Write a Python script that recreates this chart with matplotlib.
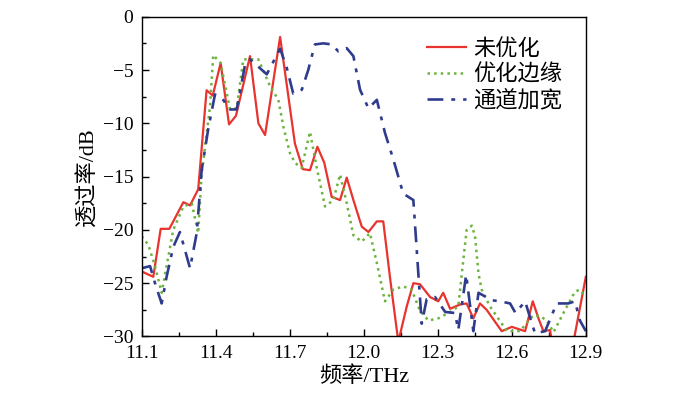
import numpy as np
import matplotlib
matplotlib.use('Agg')
import matplotlib.pyplot as plt
from matplotlib.ticker import MultipleLocator

plt.rcParams['font.family'] = ['Liberation Serif', 'Noto Sans CJK SC']
plt.rcParams['axes.unicode_minus'] = True

# 未优化
f_red = [11.10, 11.147, 11.177, 11.212, 11.269, 11.296, 11.329, 11.363, 11.388, 11.42,
         11.454, 11.482, 11.539, 11.573, 11.60, 11.661, 11.721, 11.753, 11.782, 11.812,
         11.84, 11.87, 11.904, 11.931, 11.958, 11.992, 12.019, 12.053, 12.079, 12.106,
         12.14, 12.174, 12.201, 12.228, 12.269, 12.302, 12.322, 12.35, 12.39, 12.417,
         12.444, 12.471, 12.498, 12.559, 12.60, 12.654, 12.685, 12.708, 12.728, 12.755,
         12.762, 12.85, 12.90]
t_red = [-23.9, -24.4, -19.9, -19.9, -17.4, -17.7, -16.2, -6.9, -7.4, -4.35,
         -10.1, -9.3, -3.7, -10.0, -11.1, -1.9, -11.9, -14.3, -14.4, -12.2,
         -13.7, -16.9, -17.2, -15.1, -17.2, -19.7, -20.2, -19.2, -19.2, -24.4,
         -30.5, -27.2, -25.0, -25.1, -26.3, -26.7, -25.9, -27.4, -27.0, -26.9,
         -28.3, -26.9, -27.5, -29.5, -29.1, -29.5, -26.7, -28.3, -29.5, -29.4,
         -30.5, -30.5, -24.4]

# 优化边缘
f_green = [11.10, 11.127, 11.154, 11.181, 11.228, 11.269, 11.303, 11.329, 11.343, 11.377,
           11.39, 11.42, 11.458, 11.485, 11.512, 11.573, 11.62, 11.654, 11.674, 11.701,
           11.721, 11.748, 11.782, 11.809, 11.843, 11.877, 11.904, 11.931, 11.958, 11.992,
           12.025, 12.053, 12.086, 12.12, 12.16, 12.194, 12.228, 12.262, 12.302, 12.35,
           12.383, 12.397, 12.417, 12.438, 12.451, 12.465, 12.478, 12.512, 12.539, 12.58,
           12.633, 12.687, 12.715, 12.742, 12.769, 12.816, 12.856, 12.876, 12.90]
t_green = [-20.6, -21.4, -23.4, -25.9, -20.0, -17.8, -17.5, -20.3, -14.8, -8.4,
           -3.6, -4.35, -8.7, -8.6, -4.0, -4.0, -6.5, -7.8, -10.3, -12.8,
           -13.7, -14.2, -10.8, -14.1, -17.8, -17.2, -14.8, -17.5, -20.5, -21.1,
           -20.3, -23.1, -26.7, -25.6, -25.3, -25.6, -27.6, -28.5, -28.3, -27.7,
           -27.2, -24.2, -20.0, -19.6, -20.6, -24.1, -25.6, -27.2, -28.1, -29.5,
           -29.5, -28.0, -28.1, -28.5, -29.6, -27.5, -25.8, -25.6, -26.3]

# 通道加宽
f_blue = [11.10, 11.134, 11.154, 11.181, 11.201, 11.228, 11.255, 11.296, 11.323, 11.343,
          11.37, 11.397, 11.424, 11.458, 11.485, 11.519, 11.539, 11.607, 11.661, 11.688,
          11.714, 11.749, 11.775, 11.802, 11.836, 11.87, 11.897, 11.931, 11.958, 11.985,
          12.019, 12.053, 12.086, 12.12, 12.16, 12.201, 12.235, 12.255, 12.289, 12.33,
          12.37, 12.383, 12.415, 12.444, 12.465, 12.519, 12.552, 12.593, 12.615, 12.654,
          12.675, 12.694, 12.735, 12.782, 12.829, 12.856, 12.876, 12.90]
t_blue = [-23.6, -23.4, -25.0, -26.9, -24.4, -21.6, -20.2, -23.6, -20.3, -14.4,
          -10.5, -7.3, -7.6, -8.7, -8.7, -4.5, -4.0, -5.4, -3.0, -4.8,
          -7.2, -6.85, -5.0, -2.6, -2.5, -2.6, -3.25, -2.95, -3.7, -6.85,
          -8.6, -7.8, -10.9, -13.4, -16.6, -17.2, -28.8, -26.5, -26.3, -27.7,
          -27.8, -29.4, -24.2, -29.5, -25.9, -26.6, -26.7, -26.9, -27.8, -26.7,
          -28.3, -29.7, -29.5, -26.9, -26.9, -26.7, -28.5, -29.5]

labels = ['未优化', '优化边缘', '通道加宽']
xtick_labels = ['11.1', '11.4', '11.7', '12.0', '12.3', '12.6', '12.9']

fig = plt.figure(figsize=(7, 3.96), dpi=100)
ax = fig.add_axes([0.2024, 0.1503, 0.6345, 0.8075])

ax.plot(f_red, t_red, '-', color='#e8332e', lw=1.6, label=labels[0])
ax.plot(f_green, t_green, ':', color='#6cb33f', lw=1.8, label=labels[1])
ax.plot(f_blue, t_blue, '-.', color='#2f3c8e', lw=1.9, dashes=(6, 3, 1.5, 3), label=labels[2])

ax.set_xlim(11.1, 12.9)
ax.set_ylim(-30, 0)
ax.xaxis.set_minor_locator(MultipleLocator(0.15))
ax.yaxis.set_major_locator(MultipleLocator(5))
ax.yaxis.set_minor_locator(MultipleLocator(2.5))
ax.set_xticks(np.arange(11.1, 12.91, 0.3))
ax.set_xticklabels(xtick_labels)
ax.tick_params(which='both', direction='in', top=False, right=False, labelsize=14)
ax.tick_params(which='major', length=5, width=1)
ax.tick_params(which='minor', length=3, width=1)
ax.tick_params(axis='x', pad=6)
ax.tick_params(axis='y', pad=6)
for s in ax.spines.values():
    s.set_linewidth(1.0)

ax.set_xlabel('频率/THz', fontsize=16, labelpad=3)
ax.set_ylabel('透过率/dB', fontsize=16, labelpad=3)

ax.legend(loc='upper left', frameon=False, fontsize=16, handlelength=1.75,
          handletextpad=0.3, labelspacing=0.2, borderpad=0, borderaxespad=0,
          bbox_to_anchor=(0.643, 0.93))

fig.savefig('out.png', dpi=100)
